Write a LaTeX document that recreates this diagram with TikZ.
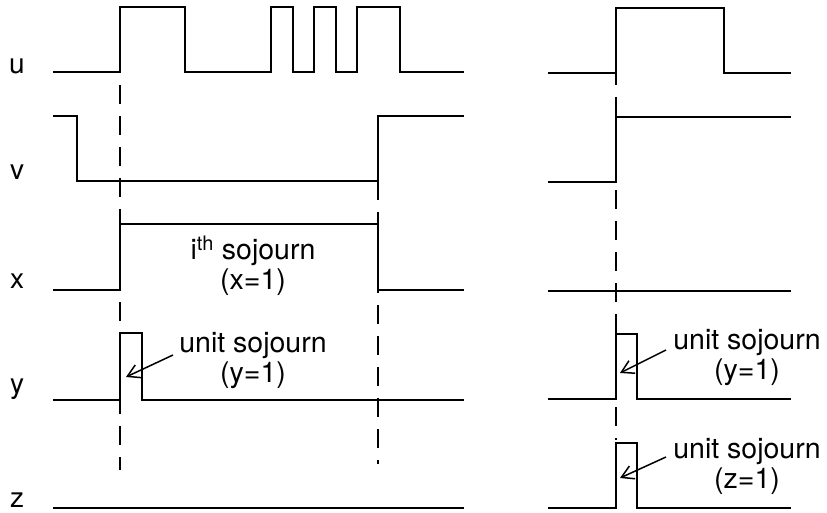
\documentclass[tikz,border=0pt]{standalone}
\usepackage{fontspec}
\setmainfont{TeX Gyre Heros}
\usetikzlibrary{arrows.meta}
\begin{document}
\begin{tikzpicture}[x=1pt,y=-1pt,
  sig/.style={line width=2.1pt, line join=miter},
  guide/.style={line width=2.1pt, dash pattern=on 19pt off 12pt},
  lbl/.style={font=\fontsize{28}{30}\selectfont, inner sep=0pt},
  txt/.style={font=\fontsize{28.5}{30}\selectfont, align=center, inner sep=0pt},
  pointer/.style={line width=1.5pt, -{Straight Barb[length=12pt,width=14pt,line width=1.5pt]}}]
\useasboundingbox (0,0) rectangle (827,513);
% labels
\node[lbl] (lu) at (17,66) {u};
\node[lbl] (lv) at (17,172) {v};
\node[lbl] (lx) at (17,281) {x};
\node[lbl] (ly) at (17,389) {y};
\node[lbl] (lz) at (17,500) {z};
% left panel signals
\draw[sig] (53,72) -- (120,72) -- (120,7) -- (185,7) -- (185,72) -- (271,72) -- (271,7) -- (293,7) -- (293,72) -- (314,72) -- (314,7) -- (336,7) -- (336,72) -- (357,72) -- (357,7) -- (400,7) -- (400,72) -- (464,72);
\draw[sig] (53,116) -- (77,116) -- (77,181) -- (378,181) -- (378,116) -- (464,116);
\draw[sig] (53,290) -- (120,290) -- (120,224) -- (378,224) -- (378,290) -- (464,290);
\draw[sig] (53,400) -- (120,400) -- (120,333) -- (142,333) -- (142,400) -- (464,400);
\draw[sig] (53,508) -- (464,508);
% left guides
\draw[guide] (120,85) -- (120,470);
\draw[guide] (378,181) -- (378,464);
% right panel signals
\draw[sig] (548,73) -- (616,73) -- (616,8) -- (724,8) -- (724,73) -- (791,73);
\draw[sig] (548,182) -- (616,182) -- (616,117) -- (791,117);
\draw[sig] (548,291) -- (791,291);
\draw[sig] (548,399) -- (616,399) -- (616,334) -- (637,334) -- (637,399) -- (791,399);
\draw[sig] (548,508) -- (616,508) -- (616,443) -- (637,443) -- (637,508) -- (791,508);
\draw[guide] (616,66) -- (616,440);
% texts
\node[txt] (tx) at (253,266) {i\textsuperscript{th} sojourn\\(x=1)};
\node[txt] (ty) at (253,361) {unit sojourn\\(y=1)};
\node[txt] (ty2) at (747,358) {unit sojourn\\(y=1)};
\node[txt] (tz) at (747,466) {unit sojourn\\(z=1)};
% arrows
\coordinate (ay) at (126,377);
\coordinate (ay2) at (620,373);
\coordinate (az) at (620,478);
\draw[pointer] (173,355) -- (ay);
\draw[pointer] (666,350) -- (ay2);
\draw[pointer] (666,457) -- (az);
\end{tikzpicture}
\end{document}
